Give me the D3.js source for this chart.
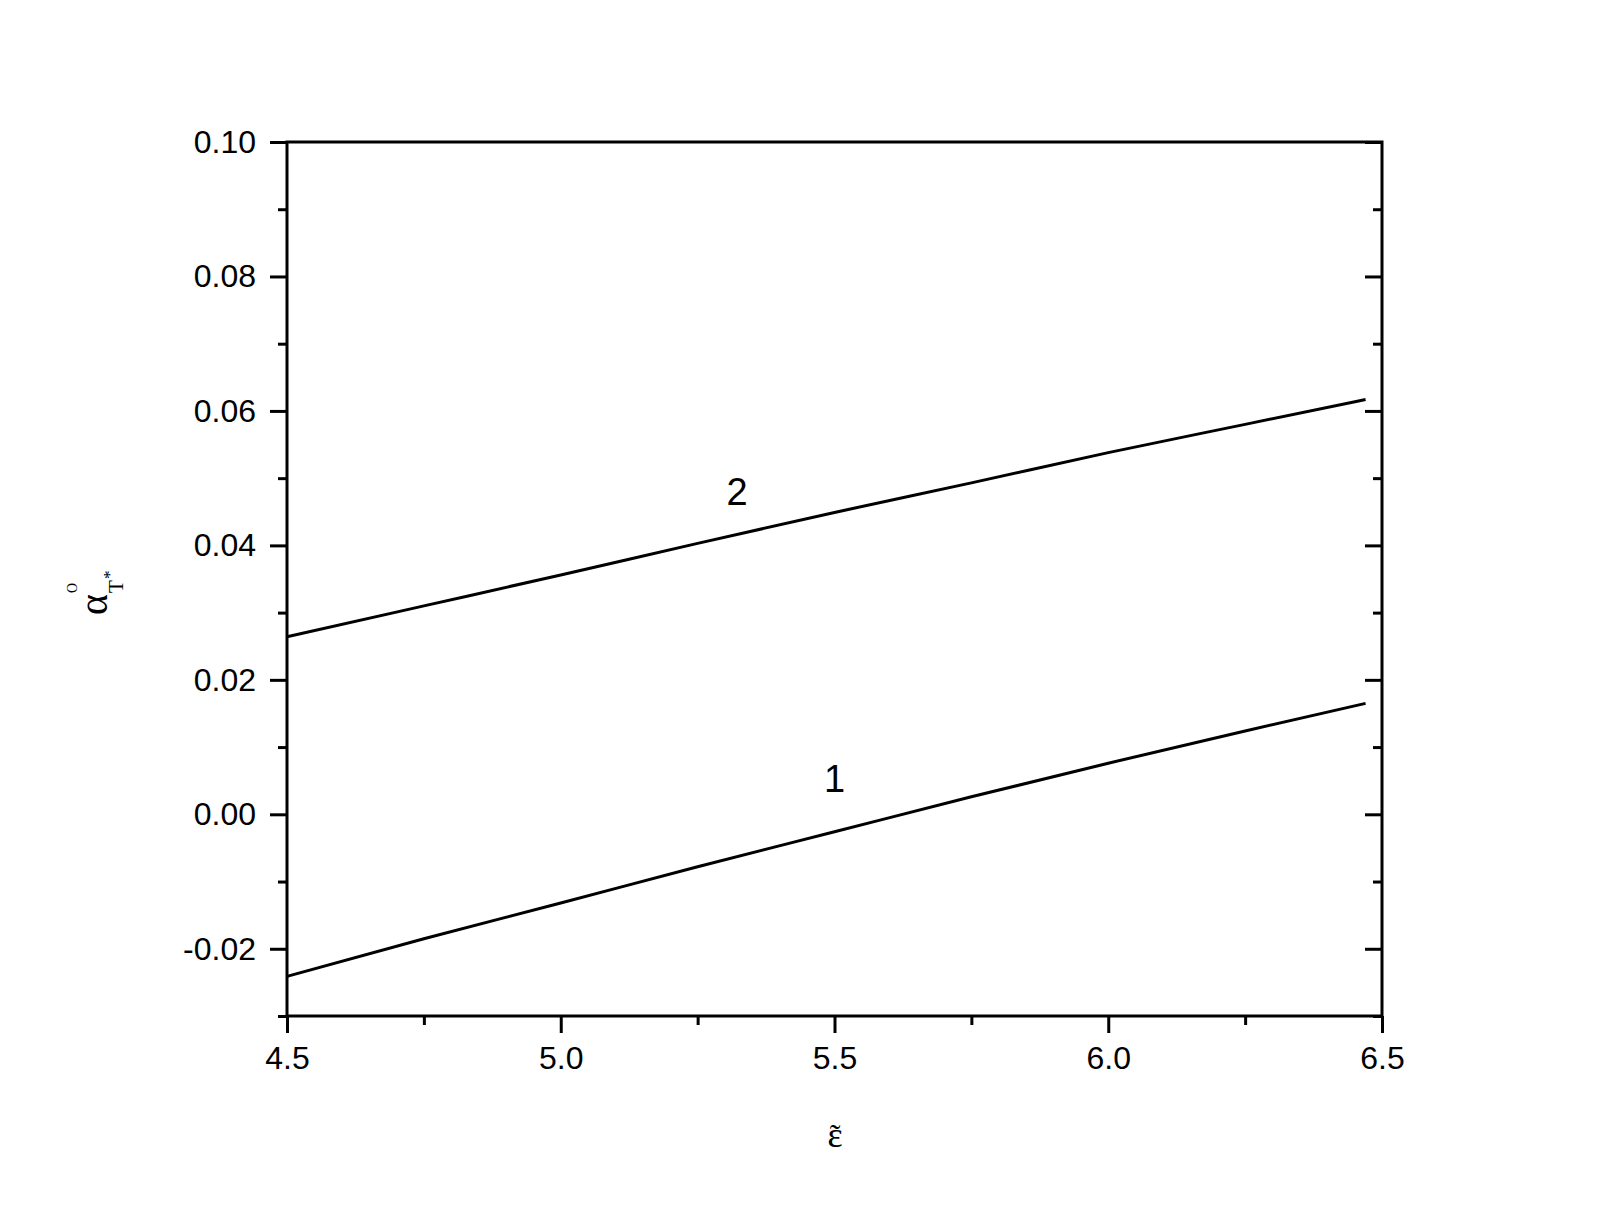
<!DOCTYPE html>
<html><head><meta charset="utf-8">
<script src="https://cdn.jsdelivr.net/npm/d3@7"></script>
<style>body{margin:0;background:#fff}</style>
</head><body>
<script>
const xValues = [4.5, 4.75, 5.0, 5.25, 5.5, 5.75, 6.0, 6.25, 6.47];
const curve1 = [-0.0241, -0.0185, -0.0132, -0.0078, -0.0026, 0.0026, 0.0076, 0.0124, 0.0165];
const curve2 = [0.0264, 0.0310, 0.0356, 0.0403, 0.0449, 0.0493, 0.0538, 0.0580, 0.0617];
const xTicks = [4.5, 5.0, 5.5, 6.0, 6.5];
const xMinor = [4.75, 5.25, 5.75, 6.25];
const yTicks = [-0.02, 0.00, 0.02, 0.04, 0.06, 0.08, 0.10];
const yMinor = [-0.03, -0.01, 0.01, 0.03, 0.05, 0.07, 0.09];
const curveLabels = [{text: "2", x: 5.322, y: 0.0460}, {text: "1", x: 5.5, y: 0.0033}];

const W = 1605, H = 1218;
const L = 287, R = 1382, T = 142, B = 1016;
const svg = d3.select("body").append("svg").attr("width", W).attr("height", H);
const x = d3.scaleLinear().domain([4.5, 6.5]).range([L, R]);
const y = d3.scaleLinear().domain([-0.03, 0.10]).range([B, T]);
const font = "'Liberation Sans', Arial, sans-serif";
const serif = "'Liberation Serif', 'Times New Roman', serif";
const yFmt = d => d3.format(".2f")(d).replace("−", "-");

function styleAxis(g){ g.select(".domain").remove(); g.selectAll("line").attr("stroke","#000").attr("stroke-width",3); g.selectAll("text").attr("font-family",font).attr("font-size",32).attr("fill","#000"); }

// bottom axis
svg.append("g").attr("transform",`translate(0,${B})`)
  .call(d3.axisBottom(x).tickValues(xTicks).tickSize(17).tickPadding(13).tickFormat(d3.format(".1f")))
  .call(styleAxis);
svg.append("g").attr("transform",`translate(0,${B})`)
  .call(d3.axisBottom(x).tickValues(xMinor).tickSize(9).tickFormat(""))
  .call(styleAxis);
// left axis
svg.append("g").attr("transform",`translate(${L},0)`)
  .call(d3.axisLeft(y).tickValues(yTicks).tickSize(17).tickPadding(14).tickFormat(yFmt))
  .call(styleAxis);
svg.append("g").attr("transform",`translate(${L},0)`)
  .call(d3.axisLeft(y).tickValues(yMinor).tickSize(9).tickFormat(""))
  .call(styleAxis);
// right axis (inward)
svg.append("g").attr("transform",`translate(${R},0)`)
  .call(d3.axisLeft(y).tickValues(yTicks).tickSize(17).tickFormat(""))
  .call(styleAxis);
svg.append("g").attr("transform",`translate(${R},0)`)
  .call(d3.axisLeft(y).tickValues(yMinor).tickSize(9).tickFormat(""))
  .call(styleAxis);

// frame
svg.append("rect").attr("x",L).attr("y",T).attr("width",R-L).attr("height",B-T)
  .attr("fill","none").attr("stroke","#000").attr("stroke-width",3);

const line = d3.line().x((d,i)=>x(xValues[i])).y(d=>y(d)).curve(d3.curveMonotoneX);
[curve1, curve2].forEach(c=>{
  svg.append("path").datum(c).attr("d",line).attr("fill","none").attr("stroke","#000").attr("stroke-width",3);
});

curveLabels.forEach(l=>{
  svg.append("text").attr("x",x(l.x)).attr("y",y(l.y)).attr("text-anchor","middle")
    .attr("font-family",font).attr("font-size",38).attr("fill","#000").text(l.text);
});

// x label: epsilon with tilde above
const xl = svg.append("text").attr("text-anchor","middle").attr("font-family",serif).attr("fill","#000");
xl.append("tspan").attr("x",835).attr("y",1147).attr("font-size",36).text("ε");
xl.append("tspan").attr("x",835).attr("y",1146).attr("font-size",32).text("˜");

// y label: alpha with subscript T* and superscript O (rotated)
const ylab = svg.append("text").attr("transform","translate(107,615) rotate(-90)")
  .attr("font-family",serif).attr("fill","#000");
ylab.append("tspan").attr("x",0).attr("y",0).attr("font-size",40).text("α");
ylab.append("tspan").attr("x",22).attr("y",16).attr("font-size",21).text("T");
ylab.append("tspan").attr("x",36).attr("y",8).attr("font-size",17).text("*");
ylab.append("tspan").attr("x",22).attr("y",-30).attr("font-size",14).text("O");
</script>
</body></html>
